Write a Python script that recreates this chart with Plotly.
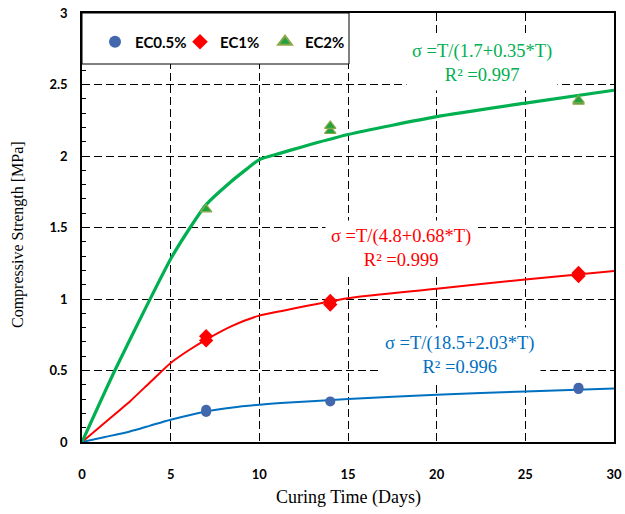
import plotly.graph_objects as go

# ---- measured points (Curing time, days ; strength, MPa) ----
ec05_t = [7, 7, 14, 28, 28]
ec05_s = [0.21, 0.226, 0.284, 0.37, 0.38]
ec1_t = [7, 7, 14, 14, 28, 28]
ec1_s = [0.71, 0.74, 0.961, 0.986, 1.161, 1.182]
ec2_t = [7, 14, 14, 28, 28]
ec2_s = [1.627, 2.175, 2.21, 2.38, 2.39]

# ---- fitted curves ----
fit05_t = [0, 1.3, 2.7, 3.8, 5, 7, 8.5, 10, 11.2, 15, 20, 25, 30]
fit05_s = [0, 0.035, 0.074, 0.113, 0.156, 0.214, 0.242, 0.261, 0.273, 0.30, 0.331, 0.354, 0.375]
fit1_t = [0, 1.3, 2.7, 3.8, 5, 6, 7, 8.5, 10, 11.2, 15, 20, 25, 30]
fit1_s = [0, 0.137, 0.284, 0.413, 0.553, 0.64, 0.716, 0.814, 0.884, 0.915, 1.005, 1.071, 1.137, 1.195]
fit2_t = [0, 1.85, 3.64, 5, 6.1, 7, 8.3, 9.3, 10, 11.2, 12.3, 15, 20, 25, 30]
fit2_s = [0, 0.5, 0.95, 1.28, 1.5, 1.66, 1.81, 1.91, 1.975, 2.02, 2.06, 2.15, 2.275, 2.37, 2.46]

x_ticks = [0, 5, 10, 15, 20, 25, 30]
y_ticks = [0, 0.5, 1, 1.5, 2, 2.5, 3]

BLUE_L, RED, GREEN = "#0070C0", "#FF0000", "#00B050"
serif = "Liberation Serif, Times New Roman, serif"
sans = "Lato, Open Sans, sans-serif"

L, R, T, B = 82, 614, 13, 442
W, H = 625, 514

def px2x(px):
    return (px - L) / (R - L) * 30

def py2y(py):
    return (B - py) / (B - T) * 3

fig = go.Figure()
fig.add_trace(go.Scatter(x=fit05_t, y=fit05_s, mode="lines", line=dict(color=BLUE_L, width=2, shape="spline", smoothing=0.6), showlegend=False, hoverinfo="skip"))
fig.add_trace(go.Scatter(x=fit1_t, y=fit1_s, mode="lines", line=dict(color=RED, width=2, shape="spline", smoothing=0.6), showlegend=False, hoverinfo="skip"))
fig.add_trace(go.Scatter(x=fit2_t, y=fit2_s, mode="lines", line=dict(color=GREEN, width=3.2, shape="spline", smoothing=0.6), showlegend=False, hoverinfo="skip"))

fig.add_trace(go.Scatter(x=ec05_t, y=ec05_s, mode="markers", name="EC0.5%",
                         marker=dict(symbol="circle", size=10, color="#4267AC", line=dict(width=0))))
fig.add_trace(go.Scatter(x=ec1_t, y=ec1_s, mode="markers", name="EC1%",
                         marker=dict(symbol="diamond", size=11, color=RED, line=dict(width=0))))
fig.add_trace(go.Scatter(x=ec2_t, y=ec2_s, mode="markers", name="EC2%",
                         marker=dict(symbol="triangle-up", size=10, color="#1FA33E", line=dict(width=1.2, color="#8DA84A"))))

# legend box (white, black frame) covering the grid
fig.add_shape(type="rect", xref="paper", yref="paper", x0=0, x1=(349 - L) / (R - L), y0=(B - 64) / (B - T), y1=1.0,
              fillcolor="white", line=dict(color="black", width=1), layer="above")

ann_common = dict(showarrow=False, bgcolor="white", borderpad=5, align="center", xref="x", yref="y",
                  xanchor="center", yanchor="middle")
fig.add_annotation(x=px2x(481.7), y=py2y(63), text="σ =T/(1.7+0.35*T)<br>R² =0.997",
                   font=dict(family=serif, size=18.5, color=GREEN), **ann_common)
fig.add_annotation(x=px2x(400.8), y=py2y(248), text="σ =T/(4.8+0.68*T)<br>R² =0.999",
                   font=dict(family=serif, size=18.5, color=RED), **ann_common)
fig.add_annotation(x=px2x(460.3), y=py2y(355), text="σ =T/(18.5+2.03*T)<br>R² =0.996",
                   font=dict(family=serif, size=18.5, color=BLUE_L), **ann_common)

# axis titles
fig.add_annotation(x=(348 - L) / (R - L), y=(B - 497) / (B - T), xref="paper", yref="paper",
                   xanchor="center", yanchor="middle",
                   text="Curing Time (Days)", showarrow=False,
                   font=dict(family=serif, size=18, color="black"))
fig.add_annotation(x=(18 - L) / (R - L), y=(B - 235) / (B - T), xref="paper", yref="paper",
                   xanchor="center", yanchor="middle",
                   text="Compressive Strength [MPa]", showarrow=False, textangle=-90,
                   font=dict(family=serif, size=16, color="black"))

fig.update_layout(
    width=W, height=H,
    margin=dict(l=L, r=W - R, t=T, b=H - B),
    paper_bgcolor="white", plot_bgcolor="white",
    showlegend=True,
    legend=dict(orientation="h", x=(95 - L) / (R - L), y=(B - 42) / (B - T), xanchor="left", yanchor="middle",
                bgcolor="rgba(0,0,0,0)", borderwidth=0, entrywidth=40, entrywidthmode="pixels",
                font=dict(family=sans, size=15, color="black", weight="bold"),
                itemsizing="constant"),
    xaxis=dict(range=[0, 30], tickvals=x_ticks, ticks="", showgrid=True, gridcolor="black",
               gridwidth=1, griddash="8px,4px", showline=True, linecolor="black", linewidth=1.5,
               mirror=True, zeroline=False, ticklabelstandoff=20, automargin=False,
               tickfont=dict(family=sans, size=13, color="black", weight="bold")),
    yaxis=dict(range=[0, 3], tickvals=y_ticks, ticks="inside", ticklen=5, tickcolor="black",
               showgrid=True, gridcolor="black", gridwidth=1, griddash="8px,4px",
               showline=True, linecolor="black", linewidth=1.5, mirror=True, zeroline=False,
               ticklabelstandoff=10, automargin=False,
               tickfont=dict(family=sans, size=13, color="black", weight="bold"),
               minor=dict(dtick=0.1, ticks="inside", ticklen=4, tickcolor="black", showgrid=False)),
)

fig.write_html("out.html", config={"displayModeBar": False},
               post_script="document.body.style.margin='0';")
